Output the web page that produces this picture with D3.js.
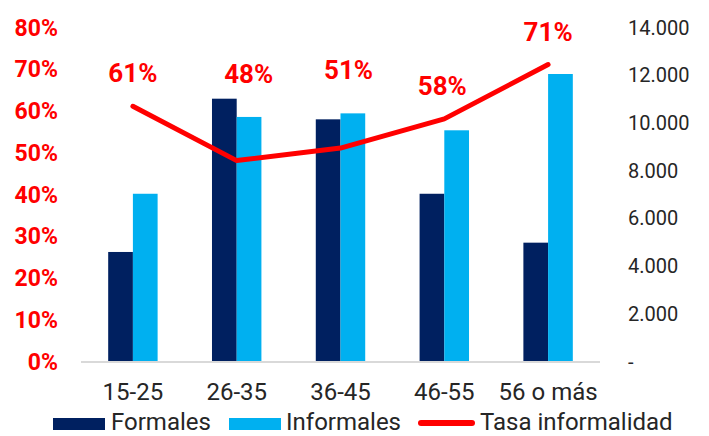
<!DOCTYPE html>
<html>
<head>
<meta charset="utf-8">
<script src="https://cdn.jsdelivr.net/npm/d3@7"></script>
<style>
  html, body { margin: 0; padding: 0; background: #ffffff; }
  svg { display: block; font-family: Roboto, "Noto Sans", Arial, sans-serif; }
</style>
</head>
<body>
<svg id="chart" width="709" height="436"></svg>
<script>
// Age groups and worker counts
const categories = ["15-25", "26-35", "36-45", "46-55", "56 o más"];
const formales   = [4570, 10995, 10130, 7010, 4960];
const informales = [7010, 10230, 10380, 9670, 12030];
// Informality rate (share of informal workers)
const tasa       = [0.61, 0.48, 0.51, 0.58, 0.71];
const tasaLabels = ["61%", "48%", "51%", "58%", "71%"];
// Axis ticks
const leftTicks  = [0, 0.1, 0.2, 0.3, 0.4, 0.5, 0.6, 0.7, 0.8];
const rightTicks = [0, 2000, 4000, 6000, 8000, 10000, 12000, 14000];
const seriesNames = ["Formales", "Informales", "Tasa informalidad"];

const colors = { Formales: "#002060", Informales: "#00B0F0", tasa: "#FF0000", text: "#262626" };

const svg = d3.select("#chart");
const plot = { left: 81, right: 600, top: 27, bottom: 361 };

const x0 = d3.scaleBand().domain(categories).range([plot.left, plot.right]).padding(0);
const x1 = d3.scaleBand().domain(["Formales", "Informales"]).range([0, x0.bandwidth()])
  .paddingInner(0).paddingOuter(1.1);
const yL = d3.scaleLinear().domain([0, 0.8]).range([plot.bottom, plot.top]);
const yR = d3.scaleLinear().domain([0, 14000]).range([plot.bottom, plot.top]);

// Left axis: percentage, red bold
const axL = d3.axisLeft(yL).tickValues(leftTicks).tickFormat(d3.format(".0%")).tickSize(0).tickPadding(0);
svg.append("g").attr("transform", "translate(58,0)").call(axL)
  .call(g => g.select(".domain").remove())
  .selectAll("text")
  .attr("fill", colors.tasa).attr("font-size", 23).attr("font-weight", "bold")
  .attr("font-family", "Roboto, sans-serif").attr("dy", "0.35em");

// Right axis: counts with dot thousands separator
const esFmt = d3.formatLocale({ decimal: ",", thousands: ".", grouping: [3], currency: ["$", ""] }).format(",.0f");
const axR = d3.axisRight(yR).tickValues(rightTicks)
  .tickFormat(d => d === 0 ? "-" : esFmt(d)).tickSize(0).tickPadding(0);
svg.append("g").attr("transform", "translate(628,0)").call(axR)
  .call(g => g.select(".domain").remove())
  .selectAll("text")
  .attr("fill", colors.text).attr("font-size", 20)
  .attr("font-family", "Roboto, sans-serif").attr("dy", "0.35em");

// Bars
const groups = svg.append("g").selectAll("g").data(categories).join("g")
  .attr("transform", d => `translate(${x0(d)},0)`);
groups.selectAll("rect")
  .data((d, i) => [{ key: "Formales", v: formales[i] }, { key: "Informales", v: informales[i] }])
  .join("rect")
  .attr("x", d => x1(d.key))
  .attr("width", x1.bandwidth())
  .attr("y", d => yR(d.v))
  .attr("height", d => yR(0) - yR(d.v))
  .attr("fill", d => colors[d.key]);

// Baseline
svg.append("line")
  .attr("x1", plot.left).attr("x2", plot.right)
  .attr("y1", plot.bottom + 1).attr("y2", plot.bottom + 1)
  .attr("stroke", "#d9d9d9").attr("stroke-width", 2);

// Category labels
const axB = d3.axisBottom(x0).tickSize(0).tickPadding(0);
svg.append("g").attr("transform", `translate(0,${plot.bottom})`).call(axB)
  .call(g => g.select(".domain").remove())
  .selectAll("text")
  .attr("fill", colors.text).attr("font-size", 24)
  .attr("font-family", "Roboto, sans-serif").attr("dy", null).attr("y", 39);

// Informality rate line
const cx = c => x0(c) + x0.bandwidth() / 2;
const line = d3.line().x((d, i) => cx(categories[i])).y(d => yL(d));
svg.append("path").datum(tasa)
  .attr("d", line).attr("fill", "none")
  .attr("stroke", colors.tasa).attr("stroke-width", 5)
  .attr("stroke-linejoin", "round").attr("stroke-linecap", "round");

// Rate labels, lifted clear of the bars where needed
const labelNudge = [[0, 0], [12, 54], [8, 45], [-2, 0], [0, 0]];
svg.append("g").selectAll("text").data(tasa).join("text")
  .attr("x", (d, i) => cx(categories[i]) + labelNudge[i][0])
  .attr("y", (d, i) => yL(d) - 24 - labelNudge[i][1])
  .attr("text-anchor", "middle")
  .attr("fill", colors.tasa).attr("font-size", 26).attr("font-weight", "bold")
  .attr("font-family", "Roboto, sans-serif")
  .text((d, i) => tasaLabels[i]);

// Legend
const legend = svg.append("g").attr("font-family", "Roboto, sans-serif").attr("font-size", 24).attr("fill", colors.text);
legend.append("rect").attr("x", 53).attr("y", 418).attr("width", 52).attr("height", 12).attr("fill", colors.Formales);
legend.append("text").attr("x", 111).attr("y", 430).text(seriesNames[0]);
legend.append("rect").attr("x", 229).attr("y", 418).attr("width", 52).attr("height", 12).attr("fill", colors.Informales);
legend.append("text").attr("x", 286).attr("y", 430).text(seriesNames[1]);
legend.append("line").attr("x1", 421).attr("x2", 472).attr("y1", 423).attr("y2", 423)
  .attr("stroke", colors.tasa).attr("stroke-width", 6).attr("stroke-linecap", "round");
legend.append("text").attr("x", 480).attr("y", 430).text(seriesNames[2]);
</script>
</body>
</html>
